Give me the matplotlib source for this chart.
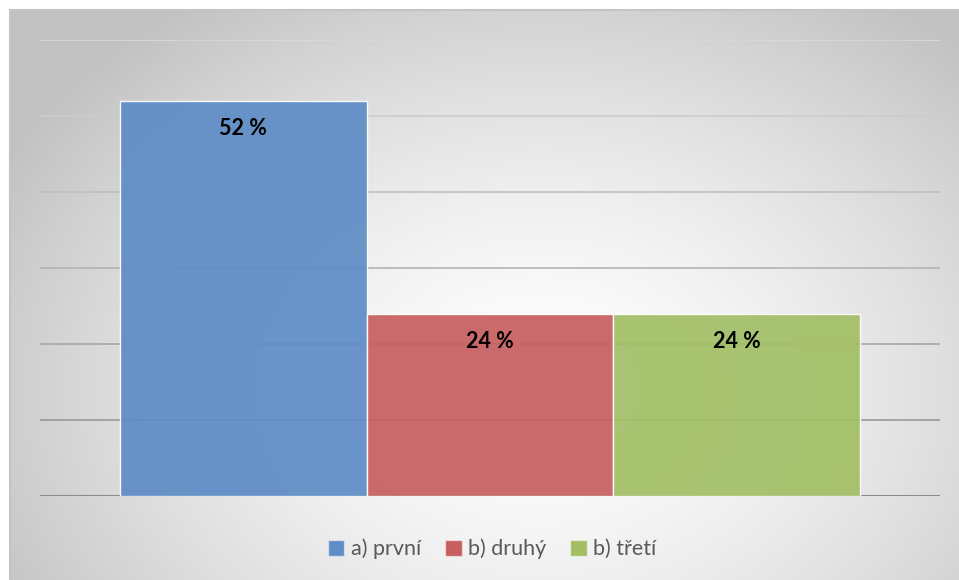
import numpy as np
import matplotlib
matplotlib.use("Agg")
import matplotlib.pyplot as plt
from matplotlib.patches import Patch

# ---- data ----
categories = ["a) první", "b) druhý", "b) třetí"]
values = [52, 24, 24]
value_labels = ["52 %", "24 %", "24 %"]
colors = ["#5f8dc6", "#c75f5f", "#a2bf66"]
y_max = 60
y_step = 10

plt.rcParams['font.family'] = ['Lato', 'DejaVu Sans']

W, H = 959, 580
fig = plt.figure(figsize=(W / 100, H / 100), dpi=100)
fig.patch.set_facecolor("white")

# ---- background (chart area with radial gradient) ----
bg = fig.add_axes([10 / W, 0, 1 - 10 / W, 1 - 10 / H])
bw, bh = W - 10, H - 10
xs = np.arange(bw) + 10
ys = np.arange(bh) + 10
X, Y = np.meshgrid(xs, ys)
cx, cy, rx, ry = 540, 390, 600, 460
d = np.sqrt(((X - cx) / rx) ** 2 + ((Y - cy) / ry) ** 2)
g = np.clip(1.0 - 0.23 * d ** 1.5, 0.76, 1.0)
img = np.dstack([g, g, g])
bg.imshow(img, aspect="auto", extent=[0, 1, 0, 1], interpolation="bilinear")
bg.set_xlim(0, 1)
bg.set_ylim(0, 1)
bg.set_xticks([])
bg.set_yticks([])
for s in ["right", "bottom"]:
    bg.spines[s].set_visible(False)
for s in ["left", "top"]:
    bg.spines[s].set_color("#c4c4c4")
    bg.spines[s].set_linewidth(1.5)

# ---- plot axes ----
ax = fig.add_axes([40 / W, (H - 496) / H, 900 / W, 456 / H])
ax.set_facecolor("none")
ax.set_xlim(-0.5, 0.5)
ax.set_ylim(0, y_max)

levels = np.arange(0, y_max + 1, y_step)
for lv in levels:
    t = lv / y_max
    c = 0.55 + 0.30 * t
    ax.axhline(lv, color=(c, c, c), linewidth=1.5 if lv == 0 else 1.2, zorder=1)

bar_w = 740 / 900 / 3
n = len(values)
xpos = (np.arange(n) - (n - 1) / 2) * bar_w
bars = ax.bar(xpos, values, width=bar_w, color=colors, alpha=0.93,
              edgecolor=(1, 1, 1, 0.45), linewidth=1.0, zorder=2)

for x, v, lab in zip(xpos, values, value_labels):
    ax.annotate(lab, xy=(x, v), xytext=(0, -20), textcoords="offset points",
                ha="center", va="center", fontsize=15.5, fontweight="bold",
                color="black", zorder=3)

ax.set_xticks([])
ax.set_yticks([])
for s in ax.spines.values():
    s.set_visible(False)

handles = [Patch(facecolor=c, edgecolor=(1, 1, 1, 0.5), label=l)
           for c, l in zip(colors, categories)]
leg = fig.legend(handles=handles, loc="center",
                 bbox_to_anchor=(492 / W, 1 - 549 / H), ncol=3, frameon=False,
                 fontsize=15.5, handlelength=0.78, handleheight=0.78,
                 handletextpad=0.3, columnspacing=1.1)
for t in leg.get_texts():
    t.set_color("#595959")

fig.savefig("out.png", dpi=100)
